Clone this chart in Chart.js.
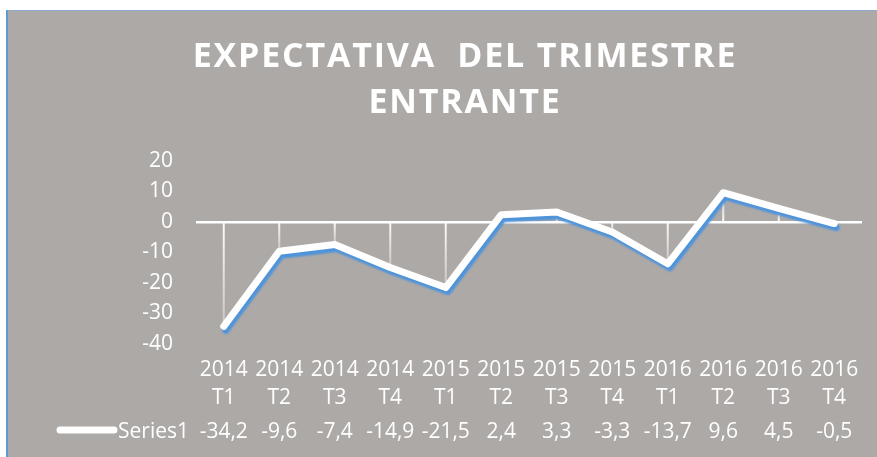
<!DOCTYPE html>
<html>
<head>
<meta charset="utf-8">
<script src="https://cdn.jsdelivr.net/npm/chart.js@4"></script>
<style>
  html, body { margin: 0; padding: 0; background: #fff; }
  #frame {
    position: absolute; left: 6px; top: 10px; right: 0; bottom: 0;
    background: #ADA9A7;
    border-left: 2px solid #5B9BD5;
    border-top: 1px solid #8EA9D0;
  }
  canvas { display: block; }
</style>
</head>
<body>
<div id="frame">
  <canvas id="chart" width="869" height="446"></canvas>
</div>
<script>
// data
const years = ['2014', '2014', '2014', '2014', '2015', '2015', '2015', '2015', '2016', '2016', '2016', '2016'];
const quarters = ['T1', 'T2', 'T3', 'T4', 'T1', 'T2', 'T3', 'T4', 'T1', 'T2', 'T3', 'T4'];
const series1 = [-34.2, -9.6, -7.4, -14.9, -21.5, 2.4, 3.3, -3.3, -13.7, 9.6, 4.5, -0.5];
const seriesName = 'Series1';
const titleLines = ['EXPECTATIVA  DEL TRIMESTRE', 'ENTRANTE'];

const FONT = "'Open Sans', 'Noto Sans', sans-serif";
const labels = years.map((y, i) => [y, quarters[i]]);

// title sits a bit right of centre and is letter-spaced
const titleTweak = {
  id: 'titleTweak',
  afterLayout(chart) {
    const tb = chart.titleBlock;
    if (!tb) return;
    tb.left += 30;
    tb.right += 30;
    if (!tb._spaced) {
      const orig = tb.draw.bind(tb);
      tb.draw = function () {
        const ctx = chart.ctx;
        ctx.save();
        ctx.letterSpacing = '1.8px';
        orig();
        ctx.restore();
      };
      tb._spaced = true;
    }
  }
};

// white drop lines from zero to each point
const dropLines = {
  id: 'dropLines',
  beforeDatasetsDraw(chart) {
    const { ctx } = chart;
    const x = chart.scales.x, y = chart.scales.y;
    const y0 = y.getPixelForValue(0);
    ctx.save();
    series1.forEach((v, i) => {
      const px = x.getPixelForValue(i);
      const py = y.getPixelForValue(v);
      const g = ctx.createLinearGradient(0, y0, 0, py);
      g.addColorStop(0, 'rgba(255,255,255,0.95)');
      g.addColorStop(1, 'rgba(255,255,255,0.35)');
      ctx.strokeStyle = g;
      ctx.lineWidth = 2;
      ctx.beginPath();
      ctx.moveTo(px, y0);
      ctx.lineTo(px, py);
      ctx.stroke();
    });
    ctx.restore();
  }
};

// blue shadow under the white line
const lineShadow = {
  id: 'lineShadow',
  beforeDatasetDraw(chart) {
    const ctx = chart.ctx;
    ctx.save();
    ctx.shadowColor = '#4F94DA';
    ctx.shadowOffsetX = 2;
    ctx.shadowOffsetY = 4;
    ctx.shadowBlur = 2;
  },
  afterDatasetDraw(chart) {
    chart.ctx.restore();
  }
};

// data table row with legend key
const dataRow = {
  id: 'dataRow',
  afterDraw(chart) {
    const { ctx } = chart;
    const x = chart.scales.x;
    const rowY = 421;
    ctx.save();
    ctx.font = '21px ' + FONT;
    ctx.fillStyle = '#fff';
    ctx.textBaseline = 'middle';

    ctx.strokeStyle = '#fff';
    ctx.lineWidth = 7;
    ctx.lineCap = 'round';
    ctx.beginPath();
    ctx.moveTo(52, rowY - 2);
    ctx.lineTo(106, rowY - 2);
    ctx.stroke();

    ctx.textAlign = 'left';
    ctx.fillText(seriesName, 110, rowY);

    ctx.textAlign = 'center';
    series1.forEach((v, i) => {
      ctx.fillText(v.toFixed(1).replace('.', ','), x.getPixelForValue(i), rowY);
    });
    ctx.restore();
  }
};

new Chart(document.getElementById('chart'), {
  type: 'line',
  data: {
    labels: labels,
    datasets: [{
      label: seriesName,
      data: series1,
      borderColor: '#fff',
      borderWidth: 7,
      pointRadius: 0,
      pointHoverRadius: 0,
      tension: 0,
      borderCapStyle: 'round',
      borderJoinStyle: 'round',
      fill: false
    }]
  },
  options: {
    responsive: false,
    animation: false,
    events: [],
    layout: { padding: { left: 0, right: 15, top: 0, bottom: 0 } },
    plugins: {
      legend: { display: false },
      tooltip: { enabled: false },
      title: {
        display: true,
        text: titleLines,
        color: '#fff',
        font: { family: FONT, size: 34, weight: 'bold', lineHeight: 46 / 34 },
        padding: { top: 23, bottom: 35 }
      }
    },
    scales: {
      x: {
        offset: true,
        grid: { display: false, drawTicks: false },
        border: { display: false },
        ticks: {
          color: '#fff',
          padding: 12,
          maxRotation: 0,
          autoSkip: false,
          font: { family: FONT, size: 21, lineHeight: 28 / 21 }
        },
        afterFit(scale) { scale.height = 113; }
      },
      y: {
        min: -40,
        max: 20,
        border: { display: false },
        grid: {
          drawTicks: false,
          color: c => (c.tick && c.tick.value === 0 ? '#fff' : 'rgba(0,0,0,0)'),
          lineWidth: 2.5
        },
        ticks: {
          stepSize: 10,
          color: '#fff',
          padding: 23,
          font: { family: FONT, size: 21 }
        },
        afterFit(scale) { scale.width = 188; }
      }
    }
  },
  plugins: [titleTweak, dropLines, lineShadow, dataRow]
});
</script>
</body>
</html>
